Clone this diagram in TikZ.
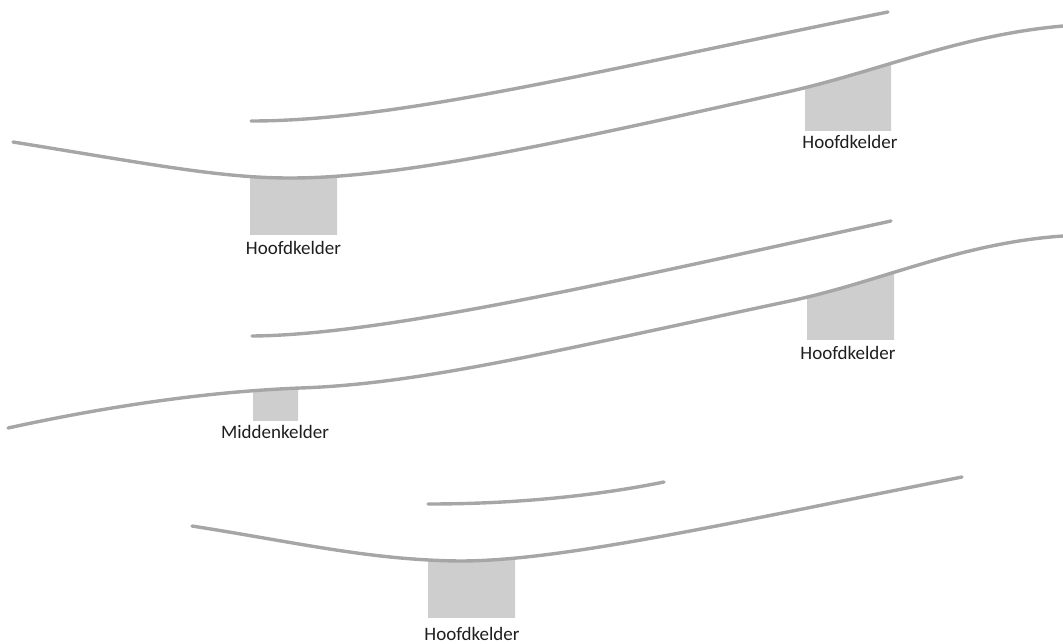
\documentclass[tikz,border=0pt]{standalone}
\usepackage{fontspec}
\setmainfont{Carlito}
\definecolor{linegray}{HTML}{A6A6A6}
\definecolor{boxgray}{HTML}{CECECE}
\definecolor{txt}{HTML}{1E1E1E}
\tikzset{
  layer/.style={draw=linegray, line width=3.4pt, line cap=round},
  kelder/.style={fill=boxgray},
  lbl/.style={text=txt, font=\fontsize{19}{22}\selectfont, inner sep=0pt, anchor=base}
}
\def\lowA{(13,142) .. controls (150,164) and (220,178) .. (290,178) .. controls (400,178) and (550,145) .. (787,92) .. controls (880,71) and (960,35) .. (1063,26)}
\def\lowB{(8,428) .. controls (100,408) and (200,392) .. (300,388) .. controls (420,384) and (550,352) .. (790,301) .. controls (880,282) and (960,243) .. (1063,236)}
\def\lowC{(192,526) .. controls (300,543) and (370,560) .. (460,561) .. controls (560,561) and (720,525) .. (962,477)}
\begin{document}
\begin{tikzpicture}[x=1pt,y=-1pt]
\useasboundingbox (0,0) rectangle (1063,643);
% cellar boxes, clipped under the ground lines
\begin{scope}
  \clip (250,0) rectangle (337,234);
  \fill[kelder] \lowA -- (1063,700) -- (0,700) -- cycle;
\end{scope}
\begin{scope}
  \clip (805,0) rectangle (891,130);
  \fill[kelder] \lowA -- (1063,700) -- (0,700) -- cycle;
\end{scope}
\begin{scope}
  \clip (253,0) rectangle (298,420);
  \fill[kelder] \lowB -- (1063,700) -- (0,700) -- cycle;
\end{scope}
\begin{scope}
  \clip (807,0) rectangle (894,339);
  \fill[kelder] \lowB -- (1063,700) -- (0,700) -- cycle;
\end{scope}
\begin{scope}
  \clip (428,0) rectangle (515,617);
  \fill[kelder] \lowC -- (1063,700) -- (0,700) -- cycle;
\end{scope}
% ground lines
\draw[layer] (251,121) .. controls (400,121) and (600,70) .. (888,12);
\draw[layer] \lowA;
\draw[layer] (252,336) .. controls (380,335) and (600,285) .. (891,221);
\draw[layer] \lowB;
\draw[layer] (428,504) .. controls (520,504) and (600,495) .. (664,482);
\draw[layer] \lowC;
% labels
\node[lbl] (h1) at (293.5,254) {Hoofdkelder};
\node[lbl] (h2) at (850,148) {Hoofdkelder};
\node[lbl] (h3) at (848,359) {Hoofdkelder};
\node[lbl] (m1) at (275,438) {Middenkelder};
\node[lbl] (h4) at (472,640) {Hoofdkelder};
\end{tikzpicture}
\end{document}
